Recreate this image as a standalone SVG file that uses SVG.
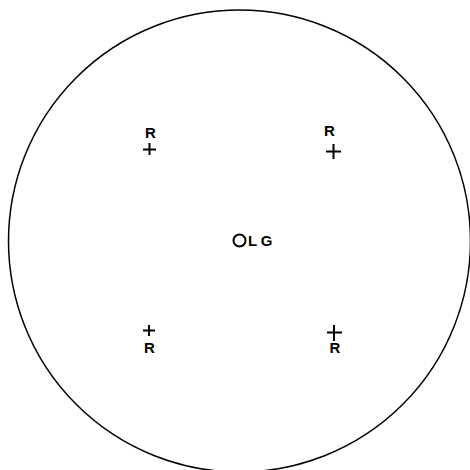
<svg xmlns="http://www.w3.org/2000/svg" width="470" height="470" viewBox="0 0 470 470">
<style>
.t{font-family:"Liberation Sans",Arial,sans-serif;font-weight:bold;font-size:15px;fill:#000}
.p{stroke:#000;stroke-width:2;fill:none}
</style>
<rect width="470" height="470" fill="#fff"/>
<g id="outline"><circle cx="239.5" cy="241" r="231" fill="none" stroke="#000" stroke-width="1.5"/></g>
<g id="r1"><text class="t" x="150.5" y="137.5" text-anchor="middle">R</text><path class="p" d="M143 149.5h13M149.5 143v12"/></g>
<g id="r2"><text class="t" x="329.5" y="136" text-anchor="middle" font-size="14">R</text><path class="p" d="M326 151.5h15M333.5 144v15"/></g>
<g id="lg"><circle cx="239.5" cy="240.5" r="6" fill="none" stroke="#000" stroke-width="2"/><text class="t" x="248" y="246" letter-spacing="3.5">LG</text></g>
<g id="r3"><path class="p" d="M143 330.5h12M149 325v11"/><text class="t" x="149.5" y="352.5" text-anchor="middle">R</text></g>
<g id="r4"><path class="p" d="M327 332.5h15M334 325v16"/><text class="t" x="335" y="352.5" text-anchor="middle">R</text></g>
</svg>
